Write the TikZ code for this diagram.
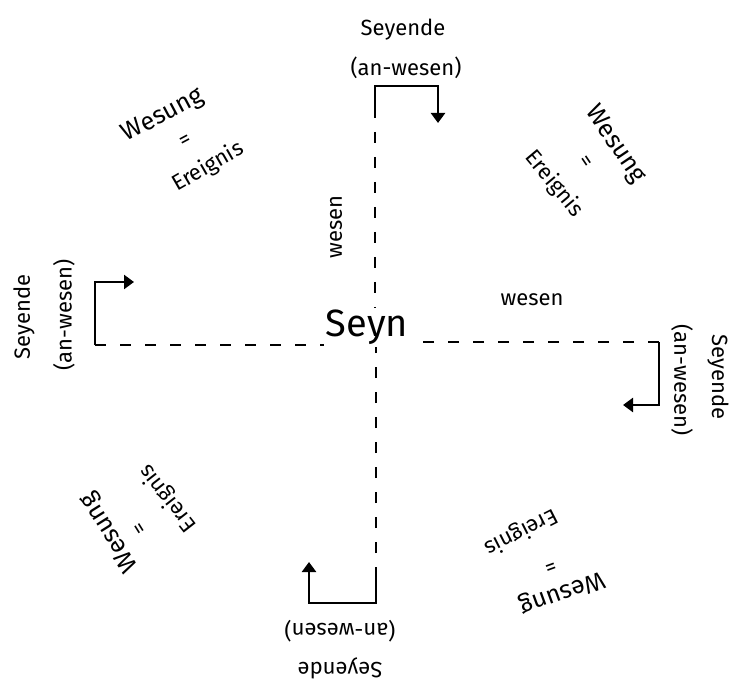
\documentclass[tikz,border=0pt]{standalone}
\usepackage{fontspec}
\setmainfont{Fira Sans}
\usetikzlibrary{arrows.meta,positioning,calc}

\begin{document}
\begin{tikzpicture}[x=1pt,y=-1pt,
        lbl/.style={inner sep=0pt,font=\fontsize{22}{24}\selectfont},
        big/.style={inner sep=2pt,font=\fontsize{38}{42}\selectfont},
        wes/.style={inner sep=0pt,font=\fontsize{25}{27}\selectfont},
        axis/.style={line width=2.4pt,dash pattern=on 11pt off 14pt},
        turn/.style={line width=2.4pt,-{Triangle[length=10pt,width=14pt]}}]
        \useasboundingbox (0,0) rectangle (733,684);

        % Centre
        \node[big] (seyn) at (367,327) {Seyn};

        % Seyende, top
        \node[lbl] (syT) at (403,30) {Seyende};
        \node[lbl] (anT) at (406,68) {(an-wesen)};
        \coordinate (lT) at (375,107);
        \coordinate (cT) at (375,86);
        \coordinate (eT) at (438,86);
        \coordinate (aT) at (438,123);
        \draw[turn] (lT) -- (cT) -- (eT) -- (aT);

        % Seyende, left
        \node[lbl,rotate=90] (syL) at (24,317) {Seyende};
        \node[lbl,rotate=90] (anL) at (64,315) {(an-wesen)};
        \coordinate (cL) at (95,345);
        \coordinate (kL) at (95,282);
        \coordinate (aL) at (134,282);
        \draw[turn] (cL) -- (kL) -- (aL);

        % Seyende, right
        \node[lbl,rotate=-90] (syR) at (718,377) {Seyende};
        \node[lbl,rotate=-90] (anR) at (682,380) {(an-wesen)};
        \coordinate (cR) at (659,342);
        \coordinate (kR) at (659,405);
        \coordinate (aR) at (623,405);
        \draw[turn] (cR) -- (kR) -- (aR);

        % Seyende, bottom
        \node[lbl,rotate=180] (anB) at (340,631) {(an-wesen)};
        \node[lbl,rotate=180] (syB) at (340,668) {Seyende};
        \coordinate (lB) at (376,578);
        \coordinate (cB) at (376,603);
        \coordinate (eB) at (309,603);
        \coordinate (aB) at (309,562);
        \draw[turn] (lB) -- (cB) -- (eB) -- (aB);

        % Axes
        \draw[axis] (lT) -- (seyn.north -| lT);
        \draw[axis] (lB) -- (seyn.south -| lB);
        \draw[axis] (cL) -- (seyn.west |- cL);
        \draw[axis] (cR) -- (seyn.east |- cR);

        % wesen
        \node[lbl,rotate=90] (wsV) at (336,227) {wesen};
        \node[lbl] (wsH) at (532,300) {wesen};

        % Wesung = Ereignis
        \node[wes,rotate=28] (wgTL) at (163,116) {Wesung};
        \node[lbl,rotate=28] (eqTL) at (186,141) {=};
        \node[lbl,rotate=30] (erTL) at (208,167) {Ereignis};

        \node[wes,rotate=-56] (wgTR) at (615,145) {Wesung};
        \node[lbl,rotate=-56] (eqTR) at (585,162) {=};
        \node[lbl,rotate=-50] (erTR) at (554,184) {Ereignis};

        \node[wes,rotate=122] (wgBL) at (110,532) {Wesung};
        \node[lbl,rotate=122] (eqBL) at (141,528) {=};
        \node[lbl,rotate=128] (erBL) at (168,498) {Ereignis};

        \node[wes,rotate=200] (wgBR) at (562,592) {Wesung};
        \node[lbl,rotate=200] (eqBR) at (550,565) {=};
        \node[lbl,rotate=207] (erBR) at (521,532) {Ereignis};
    \end{tikzpicture}
\end{document}
